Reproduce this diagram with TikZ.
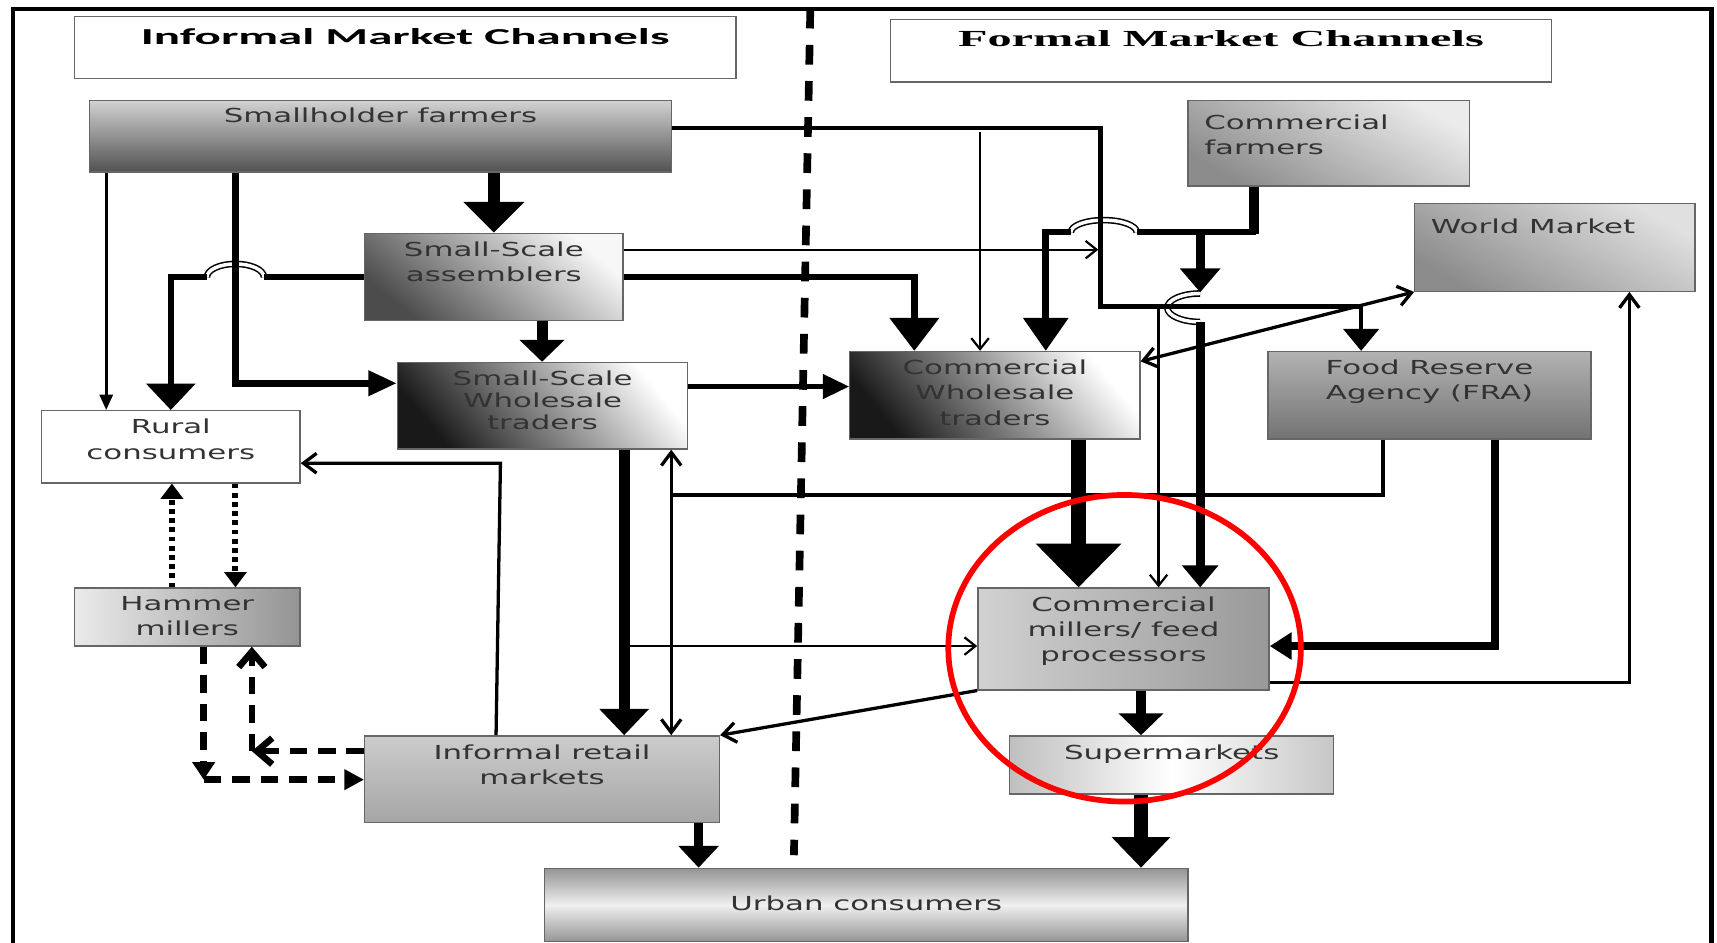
\documentclass[tikz,border=0pt]{standalone}
\usepackage{fontspec}
\setmainfont{DejaVu Sans}[FakeStretch=1.6]
\newfontfamily\infofont{Carlito}[FakeStretch=2.15]
\newfontfamily\formfont{Liberation Serif}[FakeStretch=2.1]
\usetikzlibrary{arrows.meta,positioning}

\pgfdeclareverticalshading{urbanshade}{100bp}{color(0bp)=(black!42); color(25bp)=(black!42); color(50bp)=(black!6); color(75bp)=(black!42); color(100bp)=(black!42)}
\pgfdeclarehorizontalshading{supershade}{100bp}{color(0bp)=(black!25); color(25bp)=(black!25); color(50bp)=(white); color(75bp)=(black!22); color(100bp)=(black!22)}

\tikzset{
  box/.style={draw=black!60, line width=0.6pt, inner sep=0pt},
  lbl/.style={align=center, inner sep=0pt, text=black!80, font=\fontsize{8.8}{11.5}\selectfont},
  fat/.style n args={3}{line width=#1, -{Triangle[length=#2,width=#3]}},
  thinarr/.style={line width=1pt, -{Straight Barb[length=5pt,width=8pt]}},
  barb/.style={line width=1.5pt, -{Straight Barb[length=6pt,width=9pt]}},
  twobarb/.style={line width=1.5pt, {Straight Barb[length=6pt,width=9pt]}-{Straight Barb[length=6pt,width=9pt]}},
  hop/.style={line width=0.7pt, double=white, double distance=1.6pt},
  dots/.style={line width=2.8pt, dash pattern=on 2.2pt off 2pt},
  dashes/.style={line width=3pt, dash pattern=on 8pt off 5pt}
}

\begin{document}
\begin{tikzpicture}[x=0.5pt,y=-0.5pt]
  \useasboundingbox (0,0) rectangle (1568,861);
  \clip (0,0) rectangle (1568,861);
  \fill[white] (0,0) rectangle (1568,861);

  % frame and divider
  \draw[line width=2pt] (12,880) -- (12,8) -- (1563,8) -- (1563,880);
  \draw[line width=3.5pt, dash pattern=on 9pt off 7.5pt] (740,8) -- (725,781);

  % titles
  \node[box, fill=white, minimum width=302pt, minimum height=28.5pt] (inf) at (370,43.5) {};
  \node[inner sep=0pt, font=\infofont\bfseries\fontsize{10.4}{12}\selectfont, below=5.5pt of inf.north] (inf-l) {Informal Market Channels};
  \node[box, fill=white, minimum width=302pt, minimum height=28.5pt] (form) at (1115,46.5) {};
  \node[inner sep=0pt, font=\formfont\bfseries\fontsize{10.5}{12}\selectfont, below=5pt of form.north] (form-l) {Formal Market Channels};

  % boxes
  \node[box, top color=black!18, bottom color=black!68, minimum width=265.5pt, minimum height=32.5pt] (small) at (347.5,124.5) {};
  \node[lbl, below=3.5pt of small.north] (small-l) {Smallholder farmers};
  \node[box, top color=black!8, bottom color=black!45, shading angle=-30, minimum width=128.5pt, minimum height=39pt] (cfarm) at (1213.5,131) {};
  \node[lbl, align=left, below right=6.5pt and 7.5pt of cfarm.north west] (cfarm-l) {Commercial\\farmers};
  \node[box, top color=black!12, bottom color=black!45, shading angle=-30, minimum width=128pt, minimum height=40pt] (world) at (1420,226) {};
  \node[lbl, align=left, below right=7pt and 7.5pt of world.north west] (world-l) {World Market};
  \node[box, top color=black!3, bottom color=black!70, shading angle=-40, minimum width=118pt, minimum height=40pt] (assem) at (451,253) {};
  \node[lbl, below=4pt of assem.north] (assem-l) {Small-Scale\\assemblers};
  \node[box, top color=white, bottom color=black!90, shading angle=-50, minimum width=132.5pt, minimum height=39.5pt] (sswhole) at (495.5,370.5) {};
  \node[lbl, font=\fontsize{8.8}{10}\selectfont, below=4pt of sswhole.north] (sswhole-l) {Small-Scale\\Wholesale\\traders};
  \node[box, top color=white, bottom color=black!90, shading angle=-50, minimum width=132.5pt, minimum height=40pt] (cwhole) at (908.5,361) {};
  \node[lbl, below=4pt of cwhole.north] (cwhole-l) {Commercial\\Wholesale\\traders};
  \node[box, top color=black!30, bottom color=black!55, minimum width=147.5pt, minimum height=40pt] (fra) at (1305.5,361) {};
  \node[lbl, below=4pt of fra.north] (fra-l) {Food Reserve\\Agency (FRA)};
  \node[box, fill=white, minimum width=118pt, minimum height=33pt] (rural) at (156,408) {};
  \node[lbl, below=4pt of rural.north] (rural-l) {Rural\\consumers};
  \node[box, left color=black!8, right color=black!42, minimum width=103pt, minimum height=26.5pt] (hammer) at (171,563.5) {};
  \node[lbl, below=4pt of hammer.north] (hammer-l) {Hammer\\millers};
  \node[box, left color=black!18, right color=black!40, minimum width=133pt, minimum height=46.5pt] (cmill) at (1026,583.5) {};
  \node[lbl, below=4pt of cmill.north] (cmill-l) {Commercial\\millers/ feed\\processors};
  \node[box, shading=supershade, minimum width=148pt, minimum height=26.5pt] (super) at (1070,698.5) {};
  \node[lbl, below=4pt of super.north] (super-l) {Supermarkets};
  \node[box, top color=black!20, bottom color=black!35, minimum width=162pt, minimum height=39.5pt] (retail) at (495,711.5) {};
  \node[lbl, below=4pt of retail.north] (retail-l) {Informal retail\\markets};
  \node[box, shading=urbanshade, minimum width=294pt, minimum height=33.5pt] (urban) at (791,826.5) {};
  \node[lbl, below=12.5pt of urban.north] (urban-l) {Urban consumers};

  % junctions
  \coordinate (j1) at (1003,228);
  \coordinate (j2) at (1058,280);
  \coordinate (j3) at (895,121);
  \coordinate (j4) at (570,590);
  \coordinate (j5) at (186,712);
  \coordinate (j6) at (230,686);

  % line hops
  \draw[hop] (241,253) arc[start angle=0, end angle=180, x radius=13pt, y radius=6pt];
  \draw[hop] (1038,212) arc[start angle=0, end angle=180, x radius=15pt, y radius=5.5pt];
  \draw[hop] (1096,268) arc[start angle=90, end angle=270, x radius=15pt, y radius=6.5pt];

  % informal side
  \draw[fat={5.5pt}{14pt}{27pt}] (451,0 |- small.south) -- (assem.north);
  \draw[line width=1.2pt, -{Triangle[length=7pt,width=6pt]}] (97,0 |- small.south) -- (97,0 |- rural.north);
  \draw[line width=2.5pt] (assem.west) -- (241,253);
  \draw[fat={2.5pt}{12pt}{22pt}] (189,253) -| (rural.north);
  \draw[fat={3pt}{13pt}{11pt}] (215,0 |- small.south) |- (sswhole.west |- 0,350);
  \draw[fat={5pt}{10pt}{20pt}] (495,0 |- assem.south) -- (495,0 |- sswhole.north);
  \draw[thinarr] (assem.east |- 0,228) -- (j1);
  \draw[fat={3pt}{15pt}{22pt}] (assem.east) -| (835,0 |- cwhole.north);
  \draw[fat={2pt}{12pt}{11pt}] (sswhole.east |- 0,353) -- (cwhole.west |- 0,353);

  % formal side
  \draw[fat={2pt}{10pt}{16pt}] (small.east |- 0,117) -| (1005,280) -| (1243,0 |- fra.north);
  \draw[thinarr] (j2) -- (1058,0 |- cmill.north);
  \draw[thinarr] (j3) -- (895,0 |- cwhole.north);
  \draw[line width=4.5pt] (1145,0 |- cfarm.south) -- (1145,214);
  \draw[line width=2.5pt] (1147,212) -- (1038,212);
  \draw[fat={3pt}{15pt}{20pt}] (978,212) -| (955,0 |- cwhole.north);
  \draw[fat={4pt}{11pt}{18pt}] (1096,212) -- (1096,267);
  \draw[fat={4pt}{10pt}{16pt}] (1096,294) -- (1096,0 |- cmill.north);
  \draw[twobarb] (cwhole.east |- 0,330) -- (world.south west);
  \draw[fat={7pt}{20pt}{38pt}] (985,0 |- cwhole.south) -- (985,0 |- cmill.north);
  \draw[line width=1.5pt] (1263,0 |- fra.south) |- (613,452);
  \draw[fat={3.5pt}{10pt}{12pt}] (1365,0 |- fra.south) |- (cmill.east |- 0,590);
  \draw[barb] (cmill.east |- 0,623) -| (1488,0 |- world.south);

  % middle
  \draw[fat={5pt}{12pt}{22pt}] (570,0 |- sswhole.south) -- (570,0 |- retail.north);
  \draw[twobarb] (613,0 |- sswhole.south) -- (613,0 |- retail.north);
  \draw[thinarr] (j4) -- (cmill.west |- 0,590);
  \draw[barb] (cmill.south west) -- (retail.north east);
  \draw[barb] (453,0 |- retail.north) -- (457,423) -- (rural.east |- 0,423);

  % hammer millers
  \draw[dots, -{Triangle[length=7pt,width=10pt]}] (157,0 |- hammer.north) -- (157,0 |- rural.south);
  \draw[dots, -{Triangle[length=7pt,width=10pt]}] (215,0 |- rural.south) -- (215,0 |- hammer.north);
  \draw[dashes, -{Triangle[length=8pt,width=10pt]}] (186,0 |- hammer.south) -- (j5);
  \draw[dashes, -{Triangle[length=9pt,width=9pt]}] (j5) -- (retail.west |- j5);
  \draw[dashes, -{Straight Barb[length=7pt,width=12pt]}] (retail.west |- j6) -- (j6);
  \draw[dashes, -{Straight Barb[length=7pt,width=12pt]}] (j6) -- (230,0 |- hammer.south);

  % to consumers
  \draw[fat={4pt}{10pt}{18pt}] (638,0 |- retail.south) -- (638,0 |- urban.north);
  \draw[fat={4.5pt}{10pt}{20pt}] (1042,0 |- cmill.south) -- (1042,0 |- super.north);
  \draw[fat={6pt}{14pt}{26pt}] (1042,0 |- super.south) -- (1042,0 |- urban.north);

  \draw[red, line width=2.6pt] (1027,592) ellipse [x radius=80.5pt, y radius=70pt];
\end{tikzpicture}
\end{document}
